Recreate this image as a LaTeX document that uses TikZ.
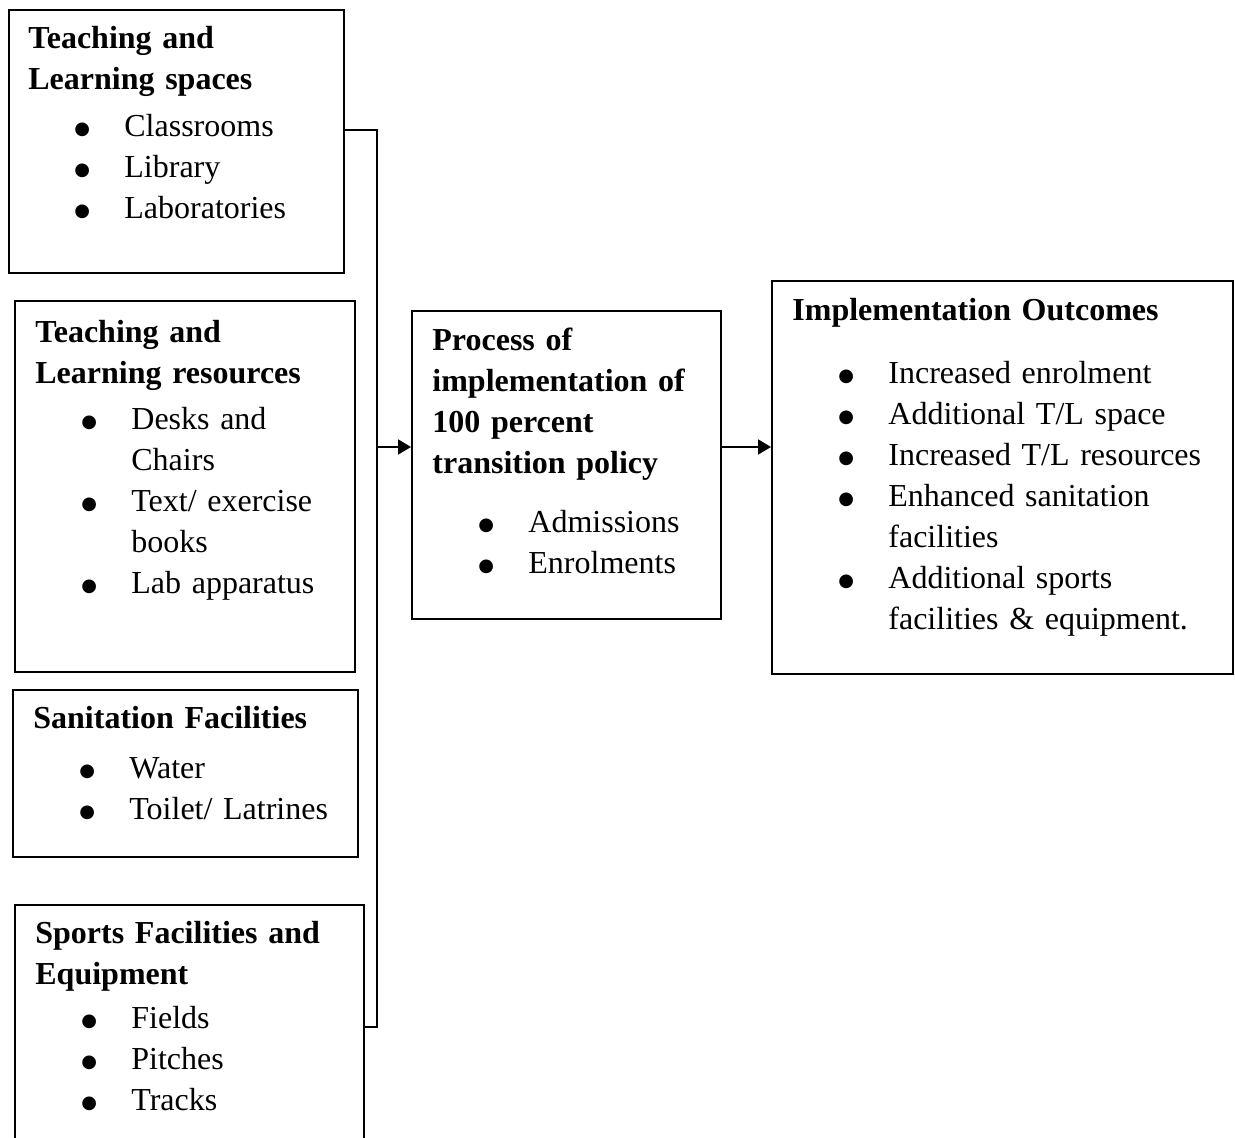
\documentclass[tikz,border=0pt]{standalone}
\usepackage{fontspec}
\setmainfont{Liberation Serif}
\newfontfamily\dotfont{DejaVu Sans}
\usetikzlibrary{arrows.meta,positioning,calc}
\tikzset{
  frame/.style = {draw, rectangle, line width=1.1pt, anchor=north west, inner sep=0pt},
  txt/.style   = {anchor=base west, inner sep=0pt, align=left, text width=215pt,
                  font=\fontsize{16pt}{20.5pt}\selectfont},
  bus/.style   = {line width=1pt}
}
\newcommand{\bitem}{\makebox[48pt][l]{\hspace{23pt}\raisebox{0.6pt}{\dotfont\fontsize{9pt}{9pt}\selectfont ●}}}
\newcommand{\bcont}{\hspace*{48pt}}

\begin{document}
\begin{tikzpicture}[x=0.5pt,y=-0.5pt,
  >={Triangle[length=6.5pt,width=7.5pt]}]
\useasboundingbox (0,0) rectangle (1235,1137);

% the boxes
\node[frame, minimum width=167.5pt, minimum height=131.5pt] (spaces) at (8,9) {};
\node[frame, minimum width=170pt, minimum height=185.5pt] (resources) at (14,300) {};
\node[frame, minimum width=172.5pt, minimum height=83.5pt] (sanitation) at (12,689) {};
\node[frame, minimum width=174.5pt, minimum height=123pt] (sports) at (14,904) {};
\node[frame, minimum width=154.5pt, minimum height=154pt] (process) at (411,310) {};
\node[frame, minimum width=230.5pt, minimum height=196.5pt] (outcomes) at (771,280) {};

% the texts, first baseline at the coordinate
\node[txt] (spacesT) at (28,48) {\textbf{Teaching and}\\
  \textbf{Learning spaces}\\[3pt]
  \bitem Classrooms\\ \bitem Library\\ \bitem Laboratories};
\node[txt] (resourcesT) at (35,342) {\textbf{Teaching and}\\
  \textbf{Learning resources}\\[2.5pt]
  \bitem Desks and\\ \bcont Chairs\\ \bitem Text/ exercise\\ \bcont books\\
  \bitem Lab apparatus};
\node[txt] (sanitationT) at (33,728) {\textbf{Sanitation Facilities}\\[4.5pt]
  \bitem Water\\ \bitem Toilet/ Latrines};
\node[txt] (sportsT) at (35,943) {\textbf{Sports Facilities and}\\
  \textbf{Equipment}\\[1.5pt]
  \bitem Fields\\ \bitem Pitches\\ \bitem Tracks};
\node[txt] (processT) at (432,350) {\textbf{Process of}\\
  \textbf{implementation of}\\ \textbf{100 percent}\\
  \textbf{transition policy}\\[9pt]
  \bitem Admissions\\ \bitem Enrolments};
\node[txt] (outcomesT) at (792,320) {\textbf{Implementation Outcomes}\\[11pt]
  \bitem Increased enrolment\\ \bitem Additional T/L space\\
  \bitem Increased T/L resources\\ \bitem Enhanced sanitation\\
  \bcont facilities\\ \bitem Additional sports\\
  \bcont facilities \& equipment.};

% connectors
\coordinate (busTop) at (377,130);
\coordinate (busMid) at (377,447);
\coordinate (busBot) at (377,1027);
\draw[bus] (spaces.east |- busTop) -- (busTop) -- (busBot) -- (sports.east |- busBot);
\draw[bus,->] (busMid) -- (process.west |- busMid);
\draw[bus,->] (process.east |- busMid) -- (outcomes.west |- busMid);
\end{tikzpicture}
\end{document}
